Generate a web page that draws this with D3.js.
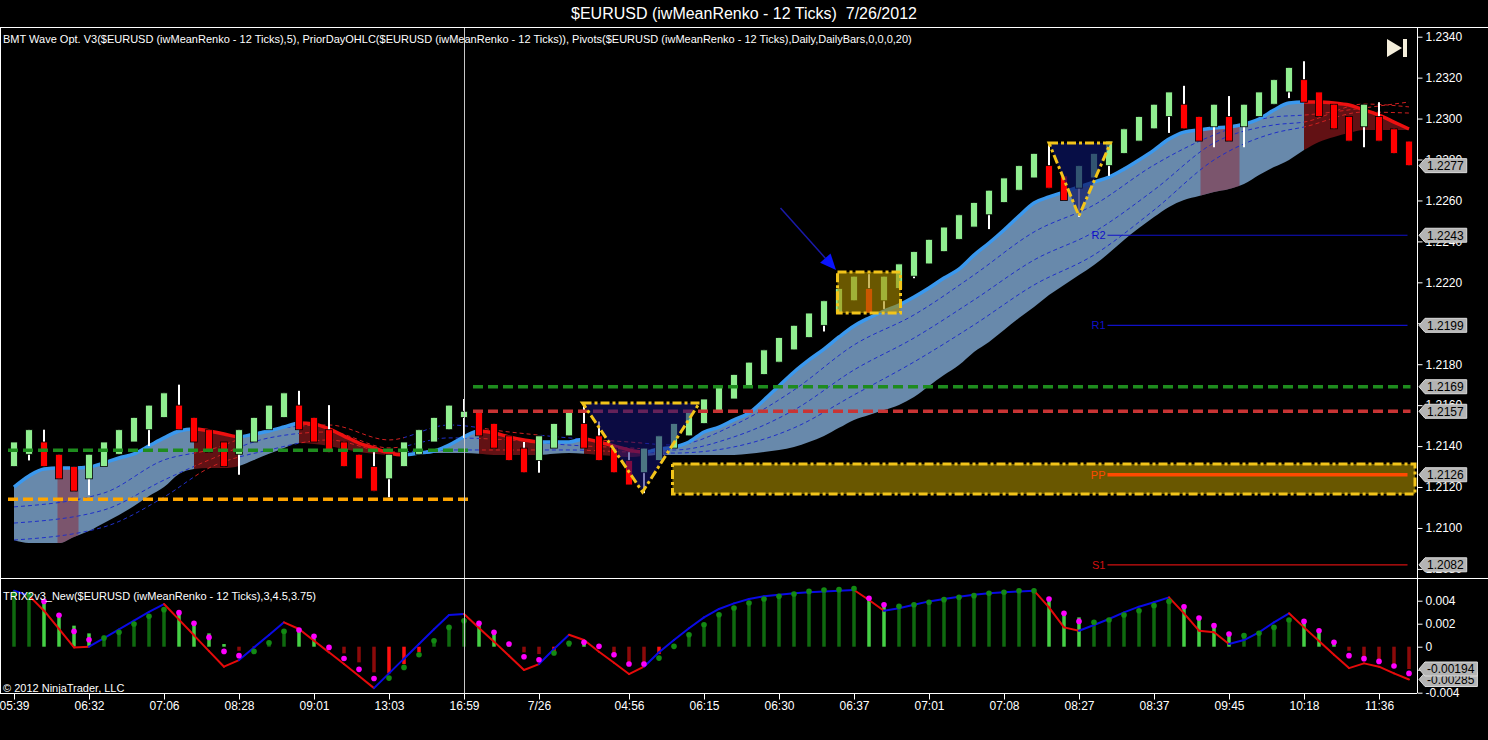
<!DOCTYPE html>
<html><head><meta charset="utf-8">
<script src="https://cdn.jsdelivr.net/npm/d3@7"></script>
<style>
html,body{margin:0;padding:0;background:#000;overflow:hidden}
svg{display:block;font-family:"Liberation Sans",Arial,sans-serif}
</style></head><body>
<svg id="chart" width="1488" height="740"></svg>
<script>
// ---------------- DATA ----------------
const titleText = "$EURUSD (iwMeanRenko - 12 Ticks)  7/26/2012";
const mainLabel = "BMT Wave Opt. V3($EURUSD (iwMeanRenko - 12 Ticks),5), PriorDayOHLC($EURUSD (iwMeanRenko - 12 Ticks)), Pivots($EURUSD (iwMeanRenko - 12 Ticks),Daily,DailyBars,0,0,0,20)";
const trixLabel = "TRIX2v3_New($EURUSD (iwMeanRenko - 12 Ticks),3,4.5,3.75)";
const copyright = "© 2012 NinjaTrader, LLC";

const tickBars = [0,5,10,15,20,25,30,35,41,46,51,56,61,66,71,76,81,86,91];
const tickLabels = ["05:39","06:32","07:06","08:28","09:01","13:03","16:59","7/26","04:56","06:15","06:30","06:37","07:01","07:08","08:27","08:37","09:45","10:18","11:36"];
const priceTicks = [1.2080,1.2100,1.2120,1.2140,1.2160,1.2180,1.2200,1.2220,1.2240,1.2260,1.2280,1.2300,1.2320,1.2340];
const trixTicks = [-0.004,-0.002,0,0.002,0.004];

const open = [1.2130,1.2136,1.2142,1.2136,1.2130,1.2124,1.2130,1.2136,1.2142,1.2148,
 1.2154,1.2160,1.2154,1.2148,1.2142,1.2136,1.2142,1.2148,1.2154,1.2160,
 1.2154,1.2148,1.2142,1.2136,1.2130,1.2124,1.2130,1.2136,1.2142,1.2148,
 1.2154,1.2157,1.2151,1.2145,1.2139,1.2133,1.2139,1.2145,1.2151,1.2145,
 1.2139,1.2133,1.2127,1.2133,1.2139,1.2145,1.2151,1.2157,1.2163,1.2169,
 1.2175,1.2181,1.2187,1.2193,1.2199,1.2205,1.2211,1.2217,1.2211,1.2217,
 1.2223,1.2229,1.2235,1.2241,1.2247,1.2253,1.2259,1.2265,1.2271,1.2277,
 1.2272,1.2266,1.2271,1.2277,1.2283,1.2289,1.2295,1.2301,1.2307,1.2301,
 1.2296,1.2301,1.2296,1.2301,1.2307,1.2313,1.2319,1.2313,1.2307,1.2301,
 1.2296,1.2301,1.2295,1.2289];
const close = [1.2142,1.2148,1.2130,1.2124,1.2118,1.2136,1.2142,1.2148,1.2154,1.2160,
 1.2166,1.2148,1.2142,1.2137,1.2130,1.2148,1.2154,1.2160,1.2166,1.2148,
 1.2142,1.2137,1.2130,1.2124,1.2118,1.2136,1.2142,1.2148,1.2154,1.2160,
 1.2157,1.2145,1.2139,1.2133,1.2127,1.2145,1.2151,1.2157,1.2139,1.2133,
 1.2127,1.2121,1.2139,1.2145,1.2151,1.2157,1.2163,1.2169,1.2175,1.2181,
 1.2187,1.2193,1.2199,1.2205,1.2211,1.2217,1.2223,1.2205,1.2223,1.2229,
 1.2235,1.2241,1.2247,1.2253,1.2259,1.2265,1.2271,1.2277,1.2283,1.2266,
 1.2260,1.2277,1.2283,1.2289,1.2295,1.2301,1.2307,1.2313,1.2295,1.2289,
 1.2307,1.2289,1.2307,1.2313,1.2319,1.2325,1.2308,1.2301,1.2295,1.2289,
 1.2307,1.2289,1.2283,1.2277];
const high = [1.2142,1.2148,1.2148,1.2136,1.2130,1.2136,1.2142,1.2148,1.2154,1.2160,
 1.2166,1.2170,1.2154,1.2148,1.2142,1.2148,1.2154,1.2160,1.2166,1.2167,
 1.2154,1.2160,1.2142,1.2136,1.2137,1.2136,1.2142,1.2148,1.2154,1.2160,
 1.2163,1.2157,1.2151,1.2145,1.2142,1.2145,1.2151,1.2157,1.2161,1.2152,
 1.2139,1.2137,1.2139,1.2145,1.2151,1.2157,1.2163,1.2169,1.2175,1.2181,
 1.2187,1.2193,1.2199,1.2205,1.2211,1.2217,1.2223,1.2224,1.2223,1.2229,
 1.2235,1.2241,1.2247,1.2253,1.2259,1.2265,1.2271,1.2277,1.2283,1.2287,
 1.2272,1.2277,1.2283,1.2289,1.2295,1.2301,1.2307,1.2313,1.2316,1.2301,
 1.2307,1.2311,1.2307,1.2313,1.2319,1.2325,1.2328,1.2313,1.2307,1.2301,
 1.2307,1.2308,1.2295,1.2289];
const low = [1.2130,1.2133,1.2130,1.2124,1.2118,1.2116,1.2130,1.2136,1.2142,1.2140,
 1.2154,1.2148,1.2142,1.2137,1.2130,1.2126,1.2142,1.2148,1.2154,1.2148,
 1.2142,1.2137,1.2130,1.2124,1.2118,1.2115,1.2130,1.2136,1.2142,1.2148,
 1.2144,1.2145,1.2139,1.2133,1.2127,1.2127,1.2139,1.2145,1.2139,1.2133,
 1.2127,1.2121,1.2117,1.2133,1.2139,1.2145,1.2151,1.2157,1.2163,1.2169,
 1.2175,1.2181,1.2187,1.2193,1.2196,1.2205,1.2211,1.2205,1.2207,1.2217,
 1.2222,1.2229,1.2235,1.2241,1.2247,1.2246,1.2259,1.2265,1.2271,1.2266,
 1.2260,1.2252,1.2271,1.2272,1.2283,1.2289,1.2295,1.2293,1.2295,1.2289,
 1.2286,1.2289,1.2286,1.2301,1.2307,1.2310,1.2308,1.2301,1.2295,1.2289,
 1.2286,1.2289,1.2283,1.2277];

// BMT wave ribbon: fastest line (top) and slowest line (bottom), trend of fast line
const waveTop = [1.21200,1.21254,1.21288,1.21293,1.21293,1.21298,1.21318,1.21342,1.21362,1.21401,
 1.21440,1.21474,1.21484,1.21474,1.21459,1.21445,1.21459,1.21474,1.21493,1.21513,
 1.21508,1.21484,1.21449,1.21415,1.21391,1.21366,1.21357,1.21366,1.21376,1.21405,
 1.21445,1.21474,1.21464,1.21445,1.21430,1.21420,1.21420,1.21420,1.21435,1.21420,
 1.21401,1.21381,1.21371,1.21386,1.21396,1.21420,1.21469,1.21493,1.21528,1.21562,
 1.21625,1.21694,1.21762,1.21821,1.21874,1.21933,1.21987,1.22026,1.22060,1.22089,
 1.22128,1.22172,1.22221,1.22265,1.22333,1.22392,1.22456,1.22524,1.22588,1.22617,
 1.22641,1.22666,1.22690,1.22714,1.22753,1.22798,1.22846,1.22900,1.22934,1.22944,
 1.22954,1.22959,1.22973,1.22998,1.23042,1.23076,1.23081,1.23081,1.23076,1.23066,
 1.23042,1.23017,1.22983,1.22949];
const waveBottom = [1.20941,1.20926,1.20926,1.20926,1.20956,1.20985,1.21024,1.21063,1.21107,1.21156,
 1.21200,1.21264,1.21288,1.21293,1.21293,1.21303,1.21332,1.21362,1.21391,1.21415,
 1.21410,1.21401,1.21386,1.21371,1.21362,1.21357,1.21357,1.21362,1.21366,1.21366,
 1.21366,1.21362,1.21357,1.21357,1.21357,1.21357,1.21362,1.21366,1.21362,1.21357,
 1.21352,1.21347,1.21352,1.21357,1.21357,1.21357,1.21357,1.21357,1.21357,1.21362,
 1.21371,1.21381,1.21396,1.21420,1.21449,1.21489,1.21528,1.21552,1.21576,1.21601,
 1.21640,1.21694,1.21747,1.21796,1.21860,1.21909,1.21967,1.22026,1.22079,1.22138,
 1.22187,1.22236,1.22285,1.22343,1.22407,1.22465,1.22519,1.22568,1.22602,1.22622,
 1.22641,1.22656,1.22680,1.22724,1.22763,1.22798,1.22846,1.22886,1.22910,1.22929,
 1.22944,1.22944,1.22944,1.22944];
const waveTrend = [1,1,1,1,1,1,1,1,1,1,
 1,1,0,0,0,1,1,1,1,0,
 0,0,0,0,0,0,1,1,1,1,
 1,0,0,0,0,1,1,1,0,0,
 0,0,1,1,1,1,1,1,1,1,
 1,1,1,1,1,1,1,1,1,1,
 1,1,1,1,1,1,1,1,1,1,
 1,1,1,1,1,1,1,1,1,1,
 1,1,1,1,1,1,0,0,0,0,
 0,0,0,0];
// short counter-trend shading columns inside the ribbon [fromBar, toBar]
const waveShadeCols = [[2.9, 4.3], [79.1, 81.7]];
// inner wave lines, [bar, price]
const waveMid1 = [[0,1.21103],[6,1.21171],[10,1.21332],[13,1.21381],[17,1.21479],[21,1.21503],[25,1.21430],[29,1.21503],[33,1.21469],[37,1.21440],[41,1.21420],[44,1.21405],[48,1.21503],[52,1.21674],[56,1.21894],[60,1.22041],[64,1.22236],[68,1.22446],[72,1.22578],[76,1.22773],[80,1.22920],[84,1.23008],[86,1.23017],[90,1.23052],[93,1.23081]];
const waveMid2 = [[0,1.21024],[6,1.21088],[10,1.21234],[13,1.21332],[17,1.21440],[21,1.21469],[25,1.21391],[29,1.21440],[33,1.21430],[37,1.21405],[41,1.21391],[44,1.21381],[48,1.21445],[52,1.21576],[56,1.21772],[60,1.21928],[64,1.22114],[68,1.22309],[72,1.22446],[76,1.22651],[80,1.22881],[84,1.22969],[86,1.22983],[90,1.23071],[93,1.23057]];
const waveMid3 = [[0,1.20941],[6,1.21005],[10,1.21151],[13,1.21293],[17,1.21381],[21,1.21430],[25,1.21371],[29,1.21381],[33,1.21381],[37,1.21381],[41,1.21371],[44,1.21366],[48,1.21396],[52,1.21489],[56,1.21650],[60,1.21811],[64,1.21992],[68,1.22187],[72,1.22334],[76,1.22553],[80,1.22798],[84,1.22929],[86,1.22959],[90,1.23032],[93,1.23027]];

// Prior day OHLC levels
const priorDayValues = [1.2138, 1.2114, 1.2169, 1.2157];
const priorDayColors = ["#1e8c1e", "#ffa500", "#1e8c1e", "#c83434"];
const priorDayFrom = [-0.4, -0.4, 30.6, 30.6];
const priorDayTo = [30.4, 30.4, 93.1, 93.1];

// Daily pivots
const pivotNames = ["R2", "R1", "PP", "S1"];
const pivotValues = [1.2243, 1.2199, 1.2126, 1.2082];
const pivotFrom = 72.9, pivotTo = 92.9;

// price tags on the axis
const priceTags = [1.2277, 1.2243, 1.2199, 1.2169, 1.2157, 1.2126, 1.2082];
const trixTags = [-0.00285, -0.00194];

// drawings (bar, price)
const boxNotes = [[[54.9,1.22251],[59.1,1.22050]], [[43.9,1.21313],[93.4,1.21166]]];
const triangleNotes = [[[37.9,1.21611],[45.7,1.21611],[41.9,1.21176]], [[69.0,1.22881],[73.1,1.22881],[71.0,1.22524]]];
const arrowNote = [[51.1,1.22563],[54.8,1.22260]];
const crosshairBar = 30;

// TRIX panel
const trixHist = [0.00444,0.00458,0.00400,0.00284,0.00183,0.00116,0.00096,0.00139,0.00197,0.00264,
 0.00319,0.00293,0.00203,0.00116,0.00023,-0.00035,-0.00006,0.00029,0.00110,0.00154,
 0.00067,0.00006,-0.00058,-0.00136,-0.00223,-0.00232,-0.00151,-0.00049,0.00038,0.00154,
 0.00212,0.00197,0.00110,0.00017,-0.00049,-0.00064,-0.00041,0.00023,0.00044,0.00000,
 -0.00093,-0.00165,-0.00136,-0.00064,0.00009,0.00096,0.00183,0.00270,0.00331,0.00377,
 0.00412,0.00435,0.00458,0.00479,0.00493,0.00499,0.00510,0.00429,0.00371,0.00342,
 0.00365,0.00386,0.00409,0.00429,0.00444,0.00464,0.00473,0.00487,0.00493,0.00423,
 0.00299,0.00255,0.00226,0.00249,0.00284,0.00319,0.00365,0.00400,0.00357,0.00261,
 0.00197,0.00125,0.00110,0.00125,0.00174,0.00249,0.00226,0.00145,0.00052,-0.00035,
 -0.00093,-0.00136,-0.00186,-0.00194];
const trixSignal = [0.00458,0.00452,0.00394,0.00273,0.00133,0.00061,0.00075,0.00125,0.00197,0.00264,
 0.00322,0.00296,0.00203,0.00081,-0.00041,-0.00078,-0.00041,0.00035,0.00133,0.00145,
 0.00090,-0.00006,-0.00102,-0.00197,-0.00276,-0.00273,-0.00180,-0.00070,0.00052,0.00168,
 0.00226,0.00203,0.00125,0.00023,-0.00087,-0.00113,-0.00055,0.00029,0.00038,0.00003,
 -0.00070,-0.00151,-0.00151,-0.00099,0.00003,0.00104,0.00191,0.00278,0.00336,0.00380,
 0.00415,0.00438,0.00458,0.00481,0.00493,0.00496,0.00505,0.00421,0.00365,0.00351,
 0.00365,0.00386,0.00409,0.00429,0.00444,0.00464,0.00473,0.00487,0.00487,0.00415,
 0.00290,0.00220,0.00212,0.00232,0.00276,0.00313,0.00357,0.00394,0.00348,0.00249,
 0.00183,0.00110,0.00096,0.00116,0.00168,0.00232,0.00220,0.00139,0.00038,-0.00078,
 -0.00104,-0.00128,-0.00168,-0.00232];
const trixLine = [0.00487,0.00444,0.00313,0.00154,-0.00006,0.00000,0.00075,0.00151,0.00226,0.00302,
 0.00371,0.00235,0.00099,-0.00038,-0.00174,-0.00116,-0.00006,0.00102,0.00212,0.00154,
 0.00052,-0.00049,-0.00151,-0.00255,-0.00360,-0.00232,-0.00104,0.00023,0.00151,0.00276,
 0.00284,0.00162,0.00044,-0.00078,-0.00203,-0.00151,-0.00020,0.00104,0.00058,-0.00044,
 -0.00139,-0.00238,-0.00174,-0.00049,0.00058,0.00160,0.00255,0.00328,0.00377,0.00415,
 0.00438,0.00452,0.00464,0.00473,0.00481,0.00487,0.00493,0.00406,0.00313,0.00334,
 0.00365,0.00394,0.00415,0.00435,0.00452,0.00464,0.00473,0.00481,0.00487,0.00342,
 0.00168,0.00139,0.00189,0.00241,0.00299,0.00348,0.00386,0.00429,0.00290,0.00139,
 0.00125,0.00023,0.00058,0.00125,0.00212,0.00290,0.00168,0.00049,-0.00070,-0.00186,
 -0.00145,-0.00174,-0.00232,-0.00285];
const trixUp = [1,1,0,0,0,0,1,1,1,1,
 1,0,0,0,0,0,1,1,1,0,
 0,0,0,0,0,1,1,1,1,1,
 1,0,0,0,0,0,1,1,0,0,
 0,0,0,1,1,1,1,1,1,1,
 1,1,1,1,1,1,1,0,0,1,
 1,1,1,1,1,1,1,1,1,0,
 0,0,1,1,1,1,1,1,0,0,
 0,0,1,1,1,1,0,0,0,0,
 0,0,0,0];

// ---------------- DRAWING ----------------
const svg = d3.select("#chart");
const W = 1488, axisX = 1417, mainTop = 27, mainBot = 578, lowBot = 693;
const n = open.length;
const idx = d3.range(n);
const x = d3.scaleLinear().domain([0, 93]).range([14, 1409]);
const y = d3.scaleLinear().domain([1.2080, 1.2340]).range([568.9, 36.7]);
const y2 = d3.scaleLinear().domain([-0.004, 0.004]).range([692.7, 600.7]);

svg.append("rect").attr("width", W).attr("height", 740).attr("fill", "#000");
const defs = svg.append("defs");
defs.append("clipPath").attr("id", "clipMain").append("rect")
  .attr("x", 0).attr("y", mainTop).attr("width", axisX).attr("height", mainBot - mainTop);
defs.append("clipPath").attr("id", "clipLow").append("rect")
  .attr("x", 0).attr("y", mainBot).attr("width", axisX).attr("height", lowBot - mainBot);

function runsOf(flags, val) {
  const r = []; let s = null;
  for (let i = 0; i < flags.length; i++) {
    if (flags[i] === val) { if (s === null) s = i; }
    else if (s !== null) { r.push([s, i]); s = null; }
  }
  if (s !== null) r.push([s, flags.length - 1]);
  return r;
}
function makeClip(id, ranges) {
  const cp = defs.append("clipPath").attr("id", id);
  ranges.forEach(([a, b]) => {
    const xa = a === 0 ? 0 : x(a), xb = b === n - 1 ? axisX : x(b);
    cp.append("rect").attr("x", xa).attr("y", 0).attr("width", Math.max(0, xb - xa)).attr("height", 740);
  });
}
makeClip("clipUp", runsOf(waveTrend, 1));
makeClip("clipDown", runsOf(waveTrend, 0));
const cpShade = defs.append("clipPath").attr("id", "clipShade");
waveShadeCols.forEach(([a, b]) => cpShade.append("rect").attr("x", x(a)).attr("y", 0).attr("width", x(b) - x(a)).attr("height", 740));
const isRed = idx.map(i => close[i] < open[i]);

const main = svg.append("g").attr("clip-path", "url(#clipMain)");

// wave band
const bandArea = d3.area().x((d, i) => x(i)).y0(d => y(d[1])).y1(d => y(d[0])).curve(d3.curveMonotoneX);
const bandData = idx.map(i => [waveTop[i], waveBottom[i]]);
main.append("g").attr("clip-path", "url(#clipUp)").append("path").datum(bandData).attr("d", bandArea)
  .attr("fill", "#7398be").attr("fill-opacity", 0.9);
main.append("g").attr("clip-path", "url(#clipDown)").append("path").datum(bandData).attr("d", bandArea)
  .attr("fill", "#6a1216").attr("fill-opacity", 0.92);
main.append("g").attr("clip-path", "url(#clipShade)").append("path").datum(bandData).attr("d", bandArea)
  .attr("fill", "#8a2a3a").attr("fill-opacity", 0.55);

// inner dashed lines
const midLine = d3.line().x(d => x(d[0])).y(d => y(d[1])).curve(d3.curveMonotoneX);
[waveMid1, waveMid2, waveMid3].forEach(arr => {
  main.append("g").attr("clip-path", "url(#clipUp)").append("path").datum(arr).attr("d", midLine)
    .attr("fill", "none").attr("stroke", "#1f2fc8").attr("stroke-width", 1).attr("stroke-dasharray", "4,3");
  main.append("g").attr("clip-path", "url(#clipDown)").append("path").datum(arr).attr("d", midLine)
    .attr("fill", "none").attr("stroke", "#d02020").attr("stroke-width", 1).attr("stroke-dasharray", "4,3");
});

// fast wave line
const topLine = d3.line().x((d, i) => x(i)).y(d => y(d)).curve(d3.curveMonotoneX);
main.append("g").attr("clip-path", "url(#clipUp)").append("path").datum(waveTop).attr("d", topLine)
  .attr("fill", "none").attr("stroke", "#3a98ee").attr("stroke-width", 3.5);
main.append("g").attr("clip-path", "url(#clipDown)").append("path").datum(waveTop).attr("d", topLine)
  .attr("fill", "none").attr("stroke", "#ee1010").attr("stroke-width", 3.5);

// candles
const cg = main.append("g");
cg.selectAll("rect.wick").data(idx).join("rect").attr("class", "wick")
  .attr("x", i => x(i) - 1).attr("width", 2)
  .attr("y", i => y(high[i])).attr("height", i => Math.max(0, y(low[i]) - y(high[i])))
  .attr("fill", "#ffffff");
cg.selectAll("rect.body").data(idx).join("rect").attr("class", "body")
  .attr("x", i => x(i) - 3.5).attr("width", 7)
  .attr("y", i => y(Math.max(open[i], close[i])))
  .attr("height", i => Math.max(1, y(Math.min(open[i], close[i])) - y(Math.max(open[i], close[i]))))
  .attr("fill", i => isRed[i] ? "#ff0000" : "#90ee90")
  .attr("stroke", "#000").attr("stroke-width", 0.8);

// prior day lines
priorDayValues.forEach((v, k) => {
  main.append("line").attr("x1", x(priorDayFrom[k])).attr("x2", x(priorDayTo[k]))
    .attr("y1", y(v)).attr("y2", y(v))
    .attr("stroke", priorDayColors[k]).attr("stroke-width", 3.5).attr("stroke-dasharray", "10,5");
});

// annotation drawings
const yellow = "#f2c41a";
boxNotes.forEach(([p0, p1]) => {
  main.append("rect").attr("x", x(p0[0])).attr("y", y(p0[1]))
    .attr("width", x(p1[0]) - x(p0[0])).attr("height", y(p1[1]) - y(p0[1]))
    .attr("fill", "rgb(170,140,0)").attr("fill-opacity", 0.62)
    .attr("stroke", yellow).attr("stroke-width", 3).attr("stroke-dasharray", "9,3,3,3");
});
triangleNotes.forEach((tri, k) => {
  main.append("path").attr("d", "M" + tri.map(p => [x(p[0]), y(p[1])].join(",")).join("L") + "Z")
    .attr("fill", k === 0 ? "rgb(20,20,120)" : "rgb(10,20,100)").attr("fill-opacity", k === 0 ? 0.55 : 0.7)
    .attr("stroke", yellow).attr("stroke-width", 3).attr("stroke-dasharray", "9,3,3,3");
});
{
  const [a, b] = arrowNote;
  const x0 = x(a[0]), y0 = y(a[1]), x1 = x(b[0]), y1 = y(b[1]);
  const ang = Math.atan2(y1 - y0, x1 - x0), L = 16, Wd = 7;
  const bx = x1 - L * Math.cos(ang), by = y1 - L * Math.sin(ang);
  main.append("line").attr("x1", x0).attr("y1", y0).attr("x2", bx).attr("y2", by)
    .attr("stroke", "#1a1aa8").attr("stroke-width", 1.5);
  main.append("path").attr("d", `M${x1},${y1}L${bx + Wd * Math.sin(ang)},${by - Wd * Math.cos(ang)}L${bx - Wd * Math.sin(ang)},${by + Wd * Math.cos(ang)}Z`)
    .attr("fill", "#0a14ff");
}

// pivots
const pivotColors = ["#1010c8", "#1010c8", "#ff4a00", "#d01010"];
pivotValues.forEach((v, k) => {
  main.append("line").attr("x1", x(pivotFrom)).attr("x2", x(pivotTo)).attr("y1", y(v)).attr("y2", y(v))
    .attr("stroke", pivotColors[k]).attr("stroke-width", pivotNames[k] === "PP" ? 3.5 : 1.2);
  main.append("text").attr("x", x(pivotFrom) - 2).attr("y", y(v)).attr("dy", "0.35em")
    .attr("text-anchor", "end").attr("font-size", 11).attr("fill", pivotColors[k]).text(pivotNames[k]);
});

// ---- TRIX panel ----
const lowerG = svg.append("g").attr("clip-path", "url(#clipLow)");
const histColor = i => trixHist[i] >= 0 ? (trixUp[i] ? "#0f6a0f" : "#45d045") : (trixUp[i] ? "#ff1010" : "#8c0a0a");
lowerG.selectAll("rect.h").data(idx).join("rect").attr("class", "h")
  .attr("x", i => x(i) - 1.75).attr("width", 3.5)
  .attr("y", i => Math.min(y2(0), y2(trixHist[i])))
  .attr("height", i => Math.abs(y2(trixHist[i]) - y2(0)))
  .attr("fill", histColor);
for (let i = 1; i < n; i++) {
  lowerG.append("line").attr("x1", x(i - 1)).attr("y1", y2(trixLine[i - 1])).attr("x2", x(i)).attr("y2", y2(trixLine[i]))
    .attr("stroke", trixUp[i] ? "#0a0ae6" : "#e60a0a").attr("stroke-width", 2).attr("stroke-linecap", "round");
}
lowerG.selectAll("circle.s").data(idx).join("circle").attr("class", "s")
  .attr("cx", i => x(i)).attr("cy", i => y2(trixSignal[i])).attr("r", 2.8)
  .attr("fill", i => trixUp[i] ? "#138a13" : "#ff00ff");

// crosshair
svg.append("line").attr("x1", x(crosshairBar) + 0.5).attr("x2", x(crosshairBar) + 0.5)
  .attr("y1", mainTop).attr("y2", lowBot).attr("stroke", "#c8c8c8").attr("stroke-width", 1);

// frame lines
svg.append("line").attr("x1", 0).attr("x2", W).attr("y1", mainTop + 0.5).attr("y2", mainTop + 0.5).attr("stroke", "#fff");
svg.append("line").attr("x1", 0).attr("x2", W).attr("y1", mainBot + 0.5).attr("y2", mainBot + 0.5).attr("stroke", "#fff");
svg.append("line").attr("x1", 0).attr("x2", axisX).attr("y1", lowBot + 0.5).attr("y2", lowBot + 0.5).attr("stroke", "#fff");
svg.append("line").attr("x1", axisX + 0.5).attr("x2", axisX + 0.5).attr("y1", mainTop).attr("y2", lowBot).attr("stroke", "#fff");
svg.append("line").attr("x1", 0.5).attr("x2", 0.5).attr("y1", mainTop).attr("y2", lowBot).attr("stroke", "#fff");

// axes
function styleAxis(g) {
  g.select(".domain").remove();
  g.selectAll("line").attr("stroke", "#fff");
  g.selectAll("text").attr("fill", "#fff").attr("font-size", 12).attr("font-family", "Liberation Sans, Arial, sans-serif");
}
svg.append("g").attr("transform", `translate(${axisX + 0.5},0)`)
  .call(d3.axisRight(y).tickValues(priceTicks).tickSize(5).tickPadding(3).tickFormat(d3.format(".4f")))
  .call(styleAxis);
svg.append("g").attr("transform", `translate(${axisX + 0.5},0)`)
  .call(d3.axisRight(y2).tickValues(trixTicks).tickSize(5).tickPadding(3).tickFormat(d => d === 0 ? "0" : d.toFixed(3)))
  .call(styleAxis);
svg.append("g").attr("transform", `translate(0,${lowBot + 0.5})`)
  .call(d3.axisBottom(x).tickValues(tickBars).tickSize(6).tickPadding(2).tickFormat((d, i) => tickLabels[i]))
  .call(styleAxis);

// tags (price markers covering the axis)
function tag(yy, label) {
  const g = svg.append("g");
  const path = g.append("path");
  const t = g.append("text").attr("x", axisX + 10).attr("y", yy).attr("dy", "0.36em").attr("font-size", 12)
    .attr("fill", "#000").text(label);
  const w = t.node().getComputedTextLength() + 5;
  path.attr("d", `M${axisX + 2},${yy}L${axisX + 8},${yy - 7}L${axisX + 8 + w},${yy - 7}L${axisX + 8 + w},${yy + 7}L${axisX + 8},${yy + 7}Z`)
    .attr("fill", "#b4b4b4").attr("stroke", "#dcdcdc").attr("stroke-width", 1);
}
priceTags.forEach(v => tag(y(v), d3.format(".4f")(v)));
trixTags.forEach(v => tag(y2(v), v.toFixed(5)));

// texts
svg.append("text").attr("x", W / 2).attr("y", 19).attr("text-anchor", "middle").attr("fill", "#fff")
  .attr("font-size", 16).style("white-space", "pre").text(titleText);
svg.append("text").attr("x", 3).attr("y", 43).attr("fill", "#fff").attr("font-size", 11).text(mainLabel);
svg.append("text").attr("x", 3).attr("y", 600).attr("fill", "#fff").attr("font-size", 11).text(trixLabel);
svg.append("text").attr("x", 3).attr("y", 692).attr("fill", "#fff").attr("font-size", 11).text(copyright);

// "go to end" icon
svg.append("path").attr("d", "M1387,39L1387,57L1402,48Z").attr("fill", "#f4eedb");
svg.append("rect").attr("x", 1403).attr("y", 39).attr("width", 4).attr("height", 18).attr("fill", "#f4eedb");
</script>
</body></html>
